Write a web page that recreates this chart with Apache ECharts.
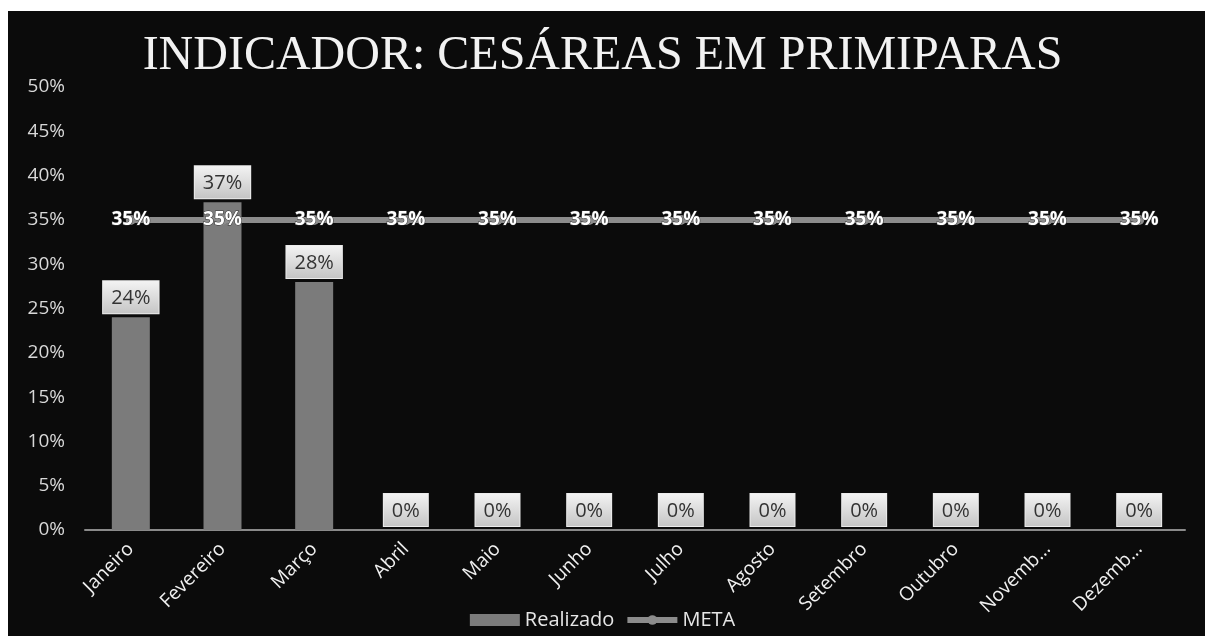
<!DOCTYPE html>
<html>
<head>
<meta charset="utf-8">
<script src="https://cdn.jsdelivr.net/npm/echarts@6/dist/echarts.min.js"></script>
<style>
html, body { margin: 0; padding: 0; background: #fff; }
#chart { width: 1205px; height: 641px; }
</style>
</head>
<body>
<div id="chart"></div>
<script>
const months = ['Janeiro', 'Fevereiro', 'Março', 'Abril', 'Maio', 'Junho', 'Julho',
  'Agosto', 'Setembro', 'Outubro', 'Novemb...', 'Dezemb...']
const realizado = [24, 37, 28, 0, 0, 0, 0, 0, 0, 0, 0, 0]
const meta = [35, 35, 35, 35, 35, 35, 35, 35, 35, 35, 35, 35]

const chart = echarts.init(document.getElementById('chart'))

chart.setOption({
  backgroundColor: '#fff',
  graphic: [{
    type: 'rect',
    z: -10,
    shape: { x: 8, y: 11, width: 1197, height: 625 },
    style: { fill: '#0b0b0b' }
  }],
  title: {
    text: 'INDICADOR: CESÁREAS EM PRIMIPARAS',
    left: 'center',
    top: 27,
    textStyle: {
      fontFamily: 'Liberation Serif',
      fontWeight: 'normal',
      fontSize: 48,
      color: '#f2f2f2'
    }
  },
  legend: {
    bottom: 6,
    left: 'center',
    itemWidth: 50,
    itemHeight: 12,
    itemGap: 10,
    textStyle: { color: '#e6e6e6', fontSize: 20, fontFamily: 'Open Sans' },
    data: [
      { name: 'Realizado', icon: 'rect' },
      { name: 'META', lineStyle: { width: 6 } }
    ]
  },
  grid: {
    left: 85,
    right: 20,
    top: 87,
    bottom: 111
  },
  xAxis: {
    type: 'category',
    data: months,
    axisLine: { lineStyle: { color: '#8a8a8a', width: 2 } },
    axisTick: { show: false },
    axisLabel: {
      rotate: 45,
      color: '#f0f0f0',
      fontSize: 19,
      fontFamily: 'Open Sans',
      margin: 16
    }
  },
  yAxis: {
    type: 'value',
    min: 0,
    max: 50,
    interval: 5,
    splitLine: { show: false },
    axisLine: { show: false },
    axisLabel: {
      formatter: '{value}%',
      color: '#d8d8d8',
      fontSize: 19,
      fontFamily: 'Open Sans',
      margin: 20
    }
  },
  series: [
    {
      name: 'Realizado',
      type: 'bar',
      data: realizado,
      barWidth: 38,
      itemStyle: { color: '#7b7b7b' },
      label: {
        show: true,
        position: 'top',
        distance: 4,
        formatter: '{c}%',
        color: '#333',
        fontSize: 20,
        fontFamily: 'Open Sans',
        padding: [7, 8, 5, 8],
        borderColor: '#ececec',
        borderWidth: 1,
        backgroundColor: {
          type: 'linear', x: 0, y: 0, x2: 0, y2: 1,
          colorStops: [
            { offset: 0, color: '#f4f4f4' },
            { offset: 1, color: '#c4c4c4' }
          ]
        }
      }
    },
    {
      name: 'META',
      type: 'line',
      data: meta,
      symbol: 'circle',
      symbolSize: 10,
      lineStyle: { color: '#8c8c8c', width: 6 },
      itemStyle: { color: '#8c8c8c' },
      label: {
        show: true,
        position: 'inside',
        formatter: '{c}%',
        color: '#fff',
        fontSize: 19,
        fontWeight: 'bold',
        fontFamily: 'Open Sans',
        textBorderColor: '#333',
        textBorderWidth: 1
      }
    }
  ]
})
</script>
</body>
</html>
